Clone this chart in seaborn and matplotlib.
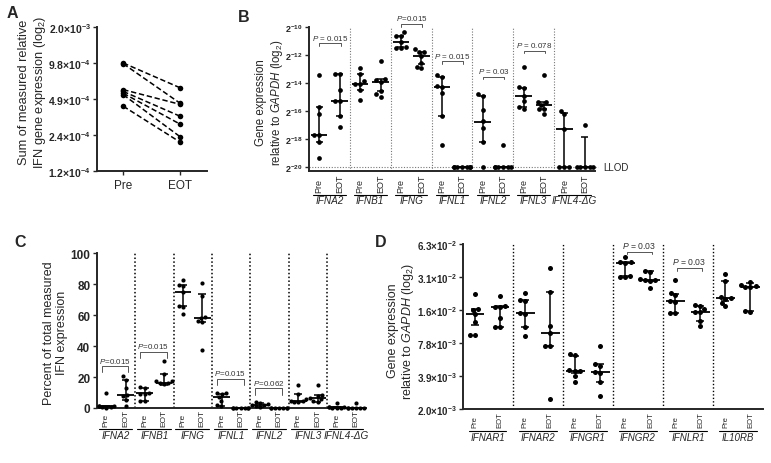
import warnings
import numpy as np
import pandas as pd
import matplotlib
matplotlib.use('Agg')
import matplotlib.pyplot as plt
import seaborn as sns

warnings.filterwarnings('ignore')

sns.set_style('ticks')
plt.rcParams['font.family'] = ['Liberation Sans', 'DejaVu Sans']
plt.rcParams['mathtext.fontset'] = 'custom'
plt.rcParams['mathtext.rm'] = 'Liberation Sans'
plt.rcParams['mathtext.it'] = 'Liberation Sans:italic'
plt.rcParams['mathtext.bf'] = 'Liberation Sans:bold'

# ---------------- data ----------------
# A: summed IFN expression per patient (log2), paired Pre / EOT
a_pre = [-10.00, -10.02, -10.74, -10.79, -10.84, -10.88, -11.20]
a_eot = [-10.69, -11.12, -11.15, -11.48, -11.70, -12.05, -12.20]
a_ticks = [-13, -12, -11, -10, -9]
a_ticklabels = [r'$\mathbf{1.2{\times}10^{-4}}$', r'$\mathbf{2.4{\times}10^{-4}}$',
                r'$\mathbf{4.9{\times}10^{-4}}$', r'$\mathbf{9.8{\times}10^{-4}}$',
                r'$\mathbf{2.0{\times}10^{-3}}$']

# B: gene expression relative to GAPDH (log2 exponent)
b_genes = ['IFNA2', 'IFNB1', 'IFNG', 'IFNL1', 'IFNL2', 'IFNL3', 'IFNL4-ΔG']
b_pre = [
    [-13.42, -15.69, -16.24, -17.68, -17.68, -18.20, -19.38],
    [-12.94, -13.37, -13.85, -14.09, -14.09, -14.50, -15.24],
    [-10.38, -10.62, -10.62, -11.10, -11.41, -11.50, -11.50],
    [-13.43, -13.55, -14.19, -14.31, -14.71, -16.38, -18.40],
    [-14.76, -14.90, -15.90, -16.69, -17.24, -18.24, -20.00],
    [-12.83, -14.31, -14.38, -14.90, -15.26, -15.74, -15.86],
    [-15.98, -16.21, -17.29, -20.00, -20.00, -20.00],
]
b_eot = [
    [-13.33, -13.33, -14.50, -15.29, -15.29, -16.36, -17.15],
    [-12.42, -13.73, -13.75, -13.90, -14.57, -14.81, -14.97],
    [-11.58, -11.82, -11.82, -12.10, -12.54, -12.85, -12.94],
    [-20.00, -20.00, -20.00, -20.00, -20.00, -20.00, -20.00],
    [-18.43, -20.00, -20.00, -20.00, -20.00, -20.00, -20.00],
    [-13.43, -15.33, -15.38, -15.57, -15.86, -15.86, -16.21],
    [-17.00, -20.00, -20.00, -20.00, -20.00, -20.00],
]
# median and interquartile range, order Pre, EOT, Pre, EOT ...
b_med = [-17.68, -15.29, -14.09, -13.90, -11.10, -12.10, -14.31, -20, -16.76, -20, -14.90, -15.57, -17.29, -20]
b_lo = [-18.20, -16.36, -14.50, -14.60, -11.41, -12.67, -16.38, -20, -18.24, -20, -15.74, -15.86, -20, -20]
b_hi = [-15.69, -13.33, -13.37, -13.73, -10.62, -11.82, -13.55, -20, -14.90, -20, -14.38, -15.33, -16.17, -17.83]
b_yticks = [-20, -18, -16, -14, -12, -10]
b_yticklabels = [r'$\mathbf{2^{-20}}$', r'$\mathbf{2^{-18}}$', r'$\mathbf{2^{-16}}$',
                 r'$\mathbf{2^{-14}}$', r'$\mathbf{2^{-12}}$', r'$\mathbf{2^{-10}}$']
b_pgene = [0, 2, 3, 4, 5]
b_ptext = [' = 0.015', '=0.015', ' = 0.015', ' = 0.03', ' = 0.078']

# C: percent of total measured IFN expression
c_genes = b_genes
c_pre = [
    [9.5, 1.5, 1.2, 1.0, 0.8, 0.5, 0.3],
    [13.6, 13.0, 9.7, 9.3, 9.3, 4.3, 4.3],
    [82.7, 79.7, 79.0, 75.1, 66.0, 65.6, 60.6],
    [10.0, 9.5, 9.0, 6.9, 4.7, 2.0, 1.5],
    [3.9, 3.5, 2.6, 2.2, 1.9, 1.0, 0.7],
    [15.1, 9.1, 5.5, 4.7, 4.3, 3.7, 3.7],
    [3.2, 0.6, 0.5, 0.4, 0.3, 0.2, 0.1],
]
c_eot = [
    [20.6, 18.4, 13.0, 8.2, 7.6, 5.4, 1.5],
    [30.3, 22.0, 17.7, 17.3, 16.2, 16.2, 15.2],
    [80.7, 72.5, 58.9, 58.4, 56.3, 55.8, 37.2],
    [0.1, 0.1, 0.0, 0.0, 0.0, 0.0, 0.0],
    [0.3, 0.2, 0.1, 0.1, 0.0, 0.0, 0.0],
    [15.1, 8.6, 7.9, 6.3, 5.5, 4.3, 3.9],
    [3.0, 0.1, 0.0, 0.0, 0.0, 0.0, 0.0],
]
c_med = [1.0, 8.2, 9.7, 16.2, 75.1, 58.4, 6.9, 0.0, 1.9, 0.1, 4.7, 6.3, 0.4, 0.0]
c_lo = [0.5, 5.4, 4.3, 15.0, 66.0, 55.8, 1.5, 0.0, 0.7, 0.0, 3.7, 4.0, 0.2, 0.0]
c_hi = [1.5, 18.4, 13.0, 22.0, 79.7, 73.6, 9.0, 0.0, 3.5, 0.2, 9.1, 8.6, 0.6, 0.0]
c_pgene = [0, 1, 3, 4]
c_ptext = ['=0.015', '=0.015', '=0.015', '=0.062']

# D: receptor expression relative to GAPDH (log2 exponent)
d_genes = ['IFNAR1', 'IFNAR2', 'IFNGR1', 'IFNGR2', 'IFNLR1', 'IL10RB']
d_pre = [
    [-5.52, -5.97, -5.99, -6.12, -6.37, -6.75, -6.77],
    [-5.48, -5.69, -5.72, -6.09, -6.12, -6.53, -6.78],
    [-7.33, -7.36, -7.81, -7.84, -7.84, -7.99, -8.17],
    [-4.40, -4.56, -4.56, -4.58, -4.96, -5.01, -5.01],
    [-5.08, -5.48, -5.56, -5.72, -5.77, -6.10, -6.10],
    [-4.91, -5.11, -5.62, -5.65, -5.67, -5.79, -5.89],
]
d_eot = [
    [-5.59, -5.89, -5.92, -5.92, -6.25, -6.53, -6.53],
    [-4.73, -5.44, -6.47, -6.71, -7.10, -7.10, -8.70],
    [-7.08, -7.64, -7.69, -7.89, -7.91, -8.17, -8.60],
    [-4.83, -4.86, -5.06, -5.09, -5.09, -5.13, -5.33],
    [-5.85, -5.89, -5.97, -6.05, -6.07, -6.32, -6.47],
    [-5.14, -5.23, -5.28, -5.31, -5.31, -6.02, -6.05],
]
d_med = [-6.12, -5.92, -6.09, -6.71, -7.84, -7.89, -4.58, -5.09, -5.72, -6.05, -5.65, -5.31]
d_lo = [-6.45, -6.53, -6.53, -7.10, -7.90, -8.17, -4.96, -5.12, -6.10, -6.32, -5.74, -6.02]
d_hi = [-5.97, -5.89, -5.69, -5.44, -7.38, -7.64, -4.56, -4.83, -5.51, -5.89, -5.11, -5.19]
d_yticks = [-9, -8, -7, -6, -5, -4]
d_yticklabels = [r'$\mathbf{2.0{\times}10^{-3}}$', r'$\mathbf{3.9{\times}10^{-3}}$',
                 r'$\mathbf{7.8{\times}10^{-3}}$', r'$\mathbf{1.6{\times}10^{-2}}$',
                 r'$\mathbf{3.1{\times}10^{-2}}$', r'$\mathbf{6.3{\times}10^{-2}}$']
d_pgene = [3, 4]
d_ptext = [' = 0.03', ' = 0.03']

W, H = 771, 464


def axpos(l, t, r, b):
    return [l / W, 1 - b / H, (r - l) / W, (b - t) / H]


def long_df(genes, pre, eot):
    rows = []
    for g, p, e in zip(genes, pre, eot):
        rows += [(g + ' Pre', v) for v in p]
        rows += [(g + ' EOT', v) for v in e]
    return pd.DataFrame(rows, columns=['cond', 'val'])


def style_axes(ax):
    sns.despine(ax=ax)
    for s in ['left', 'bottom']:
        ax.spines[s].set_linewidth(1.4)
    ax.tick_params(axis='y', length=3, width=1, pad=1.5)
    ax.tick_params(axis='x', length=0)


def dot_panel(ax, genes, pre, eot, med, lo, hi, dot, cap, mw, sep_kw):
    df = long_df(genes, pre, eot)
    order = [f'{g} {t}' for g in genes for t in ('Pre', 'EOT')]
    sns.swarmplot(data=df, x='cond', y='val', order=order, color='k', size=dot,
                  linewidth=0, ax=ax, zorder=3)
    for c in ax.collections:
        c.set_clip_on(False)
    pos = np.arange(len(order))
    kw = dict(color='k', zorder=4, clip_on=False)
    ax.vlines(pos, lo, hi, lw=1.1, **kw)
    ax.hlines(lo, pos - cap, pos + cap, lw=1.1, **kw)
    ax.hlines(hi, pos - cap, pos + cap, lw=1.1, **kw)
    ax.hlines(med, pos - mw, pos + mw, lw=1.3, **kw)
    for x in pos[1:-1:2] + 0.5:
        ax.axvline(x, **sep_kw)
    ax.set_xlim(-0.5, len(order) - 0.5)
    ax.set_xticks([])
    ax.set_xlabel('')
    ax.set_ylabel('')
    style_axes(ax)


def x_labels(ax, genes, lab_y, line_y, gene_y, span, fs_lab, fs_gene):
    tr = ax.get_xaxis_transform()
    for i, g in enumerate(genes):
        for j, t in enumerate(['Pre', 'EOT']):
            ax.text(2 * i + j, lab_y, t, rotation=90, ha='center', va='bottom',
                    fontsize=fs_lab, transform=tr)
        ax.plot([2 * i + span[0], 2 * i + span[1]], [line_y, line_y], color='k',
                lw=0.8, transform=tr, clip_on=False)
        ax.text(2 * i + 0.5, gene_y, g, style='italic', ha='center', va='center',
                fontsize=fs_gene, transform=tr)


def p_bracket(ax, gene, y, text, depth, x0, x1, fs):
    xa, xb = 2 * gene + x0, 2 * gene + x1
    ax.plot([xa, xa, xb, xb], [y - depth, y, y, y - depth], color='#555555', lw=0.7,
            clip_on=False)
    ax.annotate(r'$\it{P}$' + text, ((xa + xb) / 2, y), xytext=(0, 1.2),
                textcoords='offset points', ha='center', va='bottom', fontsize=fs,
                color='#333333', annotation_clip=False)


fig = plt.figure(figsize=(W / 100, H / 100), dpi=100)

# ---------------- panel A ----------------
axA = fig.add_axes(axpos(97, 28, 207, 172))
a_df = pd.DataFrame({'patient': list(range(len(a_pre))) * 2,
                     'time': ['Pre'] * len(a_pre) + ['EOT'] * len(a_eot),
                     'val': a_pre + a_eot})
sns.lineplot(data=a_df, x='time', y='val', units='patient', estimator=None, sort=False,
             color='k', lw=1.1, marker='o', markersize=4, markeredgewidth=0, ax=axA)
for ln in axA.lines:
    ln.set_dashes([3.5, 1.8])
axA.set_xlim(-0.46, 1.47)
axA.set_ylim(-13, -9)
axA.set_yticks(a_ticks)
axA.set_yticklabels(a_ticklabels, fontsize=7.5)
axA.set_xlabel('')
axA.set_ylabel('')
style_axes(axA)
axA.tick_params(axis='x', length=3, width=1, labelsize=8.5, pad=3)
fig.text(33 / W, 1 - 92 / H, 'Sum of measured relative\nIFN gene expression (log$_2$)',
         rotation=90, ha='center', va='center', fontsize=9.2, linespacing=1.1)

# ---------------- panel B ----------------
axB = fig.add_axes(axpos(309, 28, 595, 172))
dot_panel(axB, b_genes, b_pre, b_eot, b_med, b_lo, b_hi, dot=3.4, cap=0.17, mw=0.4,
          sep_kw=dict(color='#777777', lw=0.8, ls=(0, (1, 1.5)), zorder=1))
axB.set_ylim(-20.28, -10)
axB.set_yticks(b_yticks)
axB.set_yticklabels(b_yticklabels, fontsize=6.5)
axB.axhline(-20, xmax=1.01, color='#777777', lw=0.8, ls=(0, (1, 1.5)), clip_on=False, zorder=1)
axB.text(1.028, -20, 'LLOD', transform=axB.get_yaxis_transform(), ha='left', va='center',
         fontsize=7)
x_labels(axB, b_genes, -0.146, -0.167, -0.198, (-0.3, 1.3), 6.5, 7.2)
b_py = [-11.16, -9.79, -12.45, -13.55, -11.69]
for g, y, t in zip(b_pgene, b_py, b_ptext):
    p_bracket(axB, g, y, t, 0.19, 0.0, 1.05, 5.8)
fig.text(270 / W, 1 - 103 / H, 'Gene expression\nrelative to $\\it{GAPDH}$ (log$_2$)',
         rotation=90, ha='center', va='center', fontsize=8.3, linespacing=1.2)

# ---------------- panel C ----------------
axC = fig.add_axes(axpos(96.7, 254.3, 365.5, 409))
dot_panel(axC, c_genes, c_pre, c_eot, c_med, c_lo, c_hi, dot=3.0, cap=0.2, mw=0.43,
          sep_kw=dict(color='k', lw=1.1, ls=(0, (1, 1.5)), zorder=1))
axC.set_ylim(0, 100)
axC.set_yticks([0, 20, 40, 60, 80, 100])
axC.set_yticklabels(['0', '20', '40', '60', '80', '100'], fontsize=8.5, fontweight='bold')
x_labels(axC, c_genes, -0.114, -0.136, -0.175, (-0.4, 1.35), 6, 7.2)
c_py = [27.0, 36.4, 18.7, 12.7]
for g, y, t in zip(c_pgene, c_py, c_ptext):
    p_bracket(axC, g, y, t, 4.0, -0.25, 1.15, 5.8)
fig.text(55.5 / W, 1 - 333 / H, 'Percent of total measured\nIFN expression',
         rotation=90, ha='center', va='center', fontsize=9, linespacing=1.1)

# ---------------- panel D ----------------
axD = fig.add_axes(axpos(462.7, 245, 763, 410))
dot_panel(axD, d_genes, d_pre, d_eot, d_med, d_lo, d_hi, dot=3.6, cap=0.16, mw=0.37,
          sep_kw=dict(color='k', lw=1.0, ls=(0, (1, 1.5)), zorder=1))
axD.set_ylim(-9, -4)
axD.set_yticks(d_yticks)
axD.set_yticklabels(d_yticklabels, fontsize=7)
x_labels(axD, d_genes, -0.111, -0.131, -0.172, (-0.25, 1.25), 5.5, 7.0)
d_py = [-4.23, -4.73]
for g, y, t in zip(d_pgene, d_py, d_ptext):
    p_bracket(axD, g, y, t, 0.08, 0.06, 1.06, 6.2)
fig.text(401.5 / W, 1 - 331 / H, 'Gene expression\nrelative to $\\it{GAPDH}$ (log$_2$)',
         rotation=90, ha='center', va='center', fontsize=9, linespacing=1.1)

# panel letters
for lab, x, y in [('A', 12.5, 13), ('B', 243.5, 17), ('C', 20, 243), ('D', 381, 243)]:
    fig.text(x / W, 1 - y / H, lab, fontsize=11.5, fontweight='bold', ha='center', va='center')

fig.savefig('out.png', dpi=100)
